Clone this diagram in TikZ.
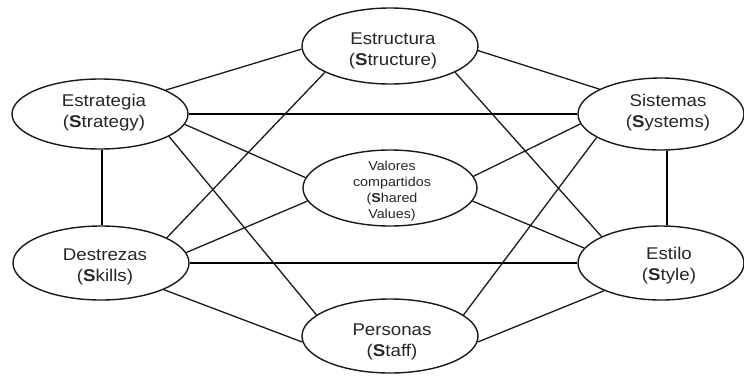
\documentclass[tikz,border=0pt]{standalone}
\usepackage{fontspec}
\setmainfont{Liberation Sans}[FakeStretch=1.1]
\usetikzlibrary{shapes.geometric}
\begin{document}
\begin{tikzpicture}[x=1pt,y=-1pt,
  bubble/.style={draw=black!90, line width=1.4pt, ellipse, inner sep=0pt},
  txt/.style={align=center, font=\fontsize{17}{21}\selectfont, text=black!85},
  smalltxt/.style={align=center, font=\fontsize{13}{16}\selectfont, text=black!85},
  link/.style={draw=black!90, line width=1.3pt},
  strong/.style={draw=black, line width=2.6pt}]
\useasboundingbox (0,0) rectangle (744,376);

% the seven elements
\node[bubble, minimum width=176pt, minimum height=76pt,
  label={[txt, xshift=3pt, yshift=-5pt]center:{Estructura\\(\textbf{S}tructure)}}]
  (str) at (390,46) {};
\node[bubble, minimum width=176pt, minimum height=70pt,
  label={[txt, xshift=4pt, yshift=1pt]center:{Estrategia\\(\textbf{S}trategy)}}]
  (stg) at (100,114) {};
\node[bubble, minimum width=166pt, minimum height=72pt,
  label={[txt, xshift=7pt, yshift=1pt]center:{Sistemas\\(\textbf{S}ystems)}}]
  (sys) at (661,114) {};
\node[bubble, minimum width=174pt, minimum height=76pt,
  label={[smalltxt, xshift=2pt, yshift=-3pt]center:{Valores\\compartidos\\(\textbf{S}hared\\Values)}}]
  (val) at (390,188) {};
\node[bubble, minimum width=176pt, minimum height=74pt,
  label={[txt, xshift=4pt, yshift=-4pt]center:{Destrezas\\(\textbf{S}kills)}}]
  (skl) at (101,263) {};
\node[bubble, minimum width=166pt, minimum height=74pt,
  label={[txt, xshift=8pt, yshift=-3pt]center:{Estilo\\(\textbf{S}tyle)}}]
  (sty) at (661,263) {};
\node[bubble, minimum width=176pt, minimum height=74pt,
  label={[txt, xshift=2pt, yshift=-6pt]center:{Personas\\(\textbf{S}taff)}}]
  (stf) at (390,336) {};

% thick frame
\draw[strong] (stg.0) -- (sys.180);
\draw[strong] (skl.0) -- (sty.180);
\draw[strong] ([xshift=2pt]stg.south) -- ([xshift=2pt]stg.south |- skl.north);
\draw[strong] ([xshift=6pt]sys.south) -- ([xshift=6pt]sys.south |- sty.north);

% thin links
\draw[link] (str.182) -- (stg.20);
\draw[link] (str.357) -- (sys.158);
\draw[link] (str.202) -- (skl.21);
\draw[link] (str.338) -- (sty.156);
\draw[link] (stg.353) -- (val.173);
\draw[link] (stg.342) -- (stf.164);
\draw[link] (sys.187) -- (val.8);
\draw[link] (sys.200) -- (stf.16);
\draw[link] (skl.7) -- (val.189);
\draw[link] (skl.337) -- (stf.184);
\draw[link] (sty.169) -- (val.351);
\draw[link] (sty.206) -- (stf.356);
\end{tikzpicture}
\end{document}
